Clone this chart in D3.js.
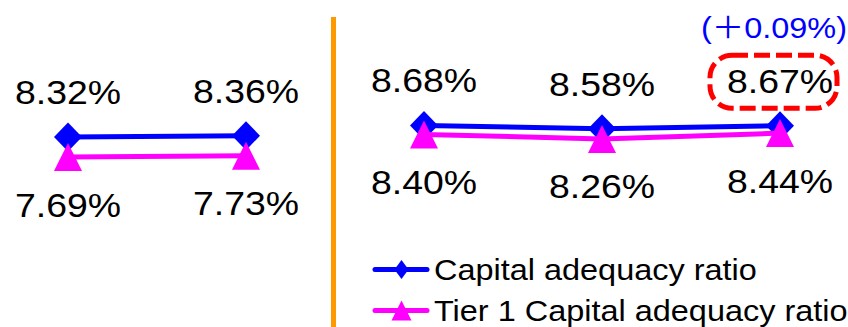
<!DOCTYPE html>
<html>
<head>
<meta charset="utf-8">
<script src="https://cdn.jsdelivr.net/npm/d3@7"></script>
<style>
  html, body { margin: 0; padding: 0; background: #fff; }
  svg { display: block; }
  text { font-family: "Liberation Sans", Arial, "Noto Sans CJK JP", sans-serif; }
</style>
</head>
<body>
<svg id="chart" width="848" height="327"></svg>
<script>
// Reporting periods (two comparison groups, unlabelled on the chart)
const periods = ["p1", "p2", "p3", "p4", "p5"];
const groups  = [0, 0, 1, 1, 1];

// Ratios in percent
const capitalRatio = [8.32, 8.36, 8.68, 8.58, 8.67];
const tier1Ratio   = [7.69, 7.73, 8.40, 8.26, 8.44];

const seriesNames = ["Capital adequacy ratio", "Tier 1 Capital adequacy ratio"];
const changeNote = "(＋0.09%)";      // change shown for the latest period
const highlightIndex = 4;            // period whose capital ratio is circled

const BLUE = "#0000ff", PINK = "#ff00ff", ORANGE = "#ff9900", RED = "#ff0000";
const SX = 1.1;                      // horizontal text stretch

const svg = d3.select("#chart");

const x = d3.scalePoint().domain(periods).range([68, 780]);
const y = d3.scaleLinear().domain([7.5, 9.0]).range([163.2, 115.2]);

const fmt = v => v.toFixed(2) + "%";

// marker shapes
function diamond(w, h) {
  return `M0,${-h/2}L${w/2},0L0,${h/2}L${-w/2},0Z`;
}
function triangle(w, h) {
  return `M0,${-h/2}L${w/2},${h/2}L${-w/2},${h/2}Z`;
}

// divider between the two groups
svg.append("rect")
  .attr("x", 331).attr("y", 17).attr("width", 5).attr("height", 327 - 17)
  .attr("fill", ORANGE);

function rows(values) {
  return periods.map((p, i) => ({ p, v: values[i], g: groups[i], i }));
}

const line = d3.line().x(d => x(d.p)).y(d => y(d.v));

function drawSeries(values, color, shape) {
  const data = rows(values);
  const byGroup = d3.groups(data, d => d.g).map(d => d[1]);
  svg.append("g").selectAll("path")
    .data(byGroup).join("path")
    .attr("d", line)
    .attr("fill", "none")
    .attr("stroke", color)
    .attr("stroke-width", 5);
  svg.append("g").selectAll("path")
    .data(data).join("path")
    .attr("transform", d => `translate(${x(d.p)},${y(d.v)})`)
    .attr("d", shape)
    .attr("fill", color);
}

drawSeries(capitalRatio, BLUE, diamond(28, 29));
drawSeries(tier1Ratio, PINK, triangle(28, 28));

function stretchedText(parent, tx, ty, str, size, color, anchor) {
  return parent.append("text")
    .attr("transform", `translate(${tx},${ty}) scale(${SX},1)`)
    .attr("text-anchor", anchor || "middle")
    .attr("font-size", size)
    .attr("fill", color)
    .text(str);
}

// value labels
const labels = svg.append("g");
rows(capitalRatio).forEach(d => {
  stretchedText(labels, x(d.p), y(d.v) - 33, fmt(d.v), 34, "#000");
});
rows(tier1Ratio).forEach(d => {
  stretchedText(labels, x(d.p), y(d.v) + 59.5, fmt(d.v), 34, "#000");
});

// highlight on the latest capital ratio
const hx = x(periods[highlightIndex]);
const hy = y(capitalRatio[highlightIndex]) - 33;
svg.append("rect")
  .attr("x", hx - 70).attr("y", hy - 37.5)
  .attr("width", 127).attr("height", 53)
  .attr("rx", 22).attr("ry", 22)
  .attr("fill", "none")
  .attr("stroke", RED)
  .attr("stroke-width", 5)
  .attr("stroke-dasharray", "16,6");
stretchedText(svg, hx - 6, hy - 54.5, changeNote, 29.5, BLUE);

// legend
const legend = svg.append("g");
const legendItems = [
  { name: seriesNames[0], color: BLUE, y: 269.5, shape: diamond(14, 19) },
  { name: seriesNames[1], color: PINK, y: 310.5, shape: triangle(20, 20) }
];
legendItems.forEach(it => {
  legend.append("line")
    .attr("x1", 375).attr("x2", 427)
    .attr("y1", it.y).attr("y2", it.y)
    .attr("stroke", it.color).attr("stroke-width", 5)
    .attr("stroke-linecap", "round");
  legend.append("path")
    .attr("transform", `translate(401.5,${it.y})`)
    .attr("d", it.shape)
    .attr("fill", it.color);
  stretchedText(legend, 434, it.y + 10.5, it.name, 29.5, "#000", "start");
});
</script>
</body>
</html>
